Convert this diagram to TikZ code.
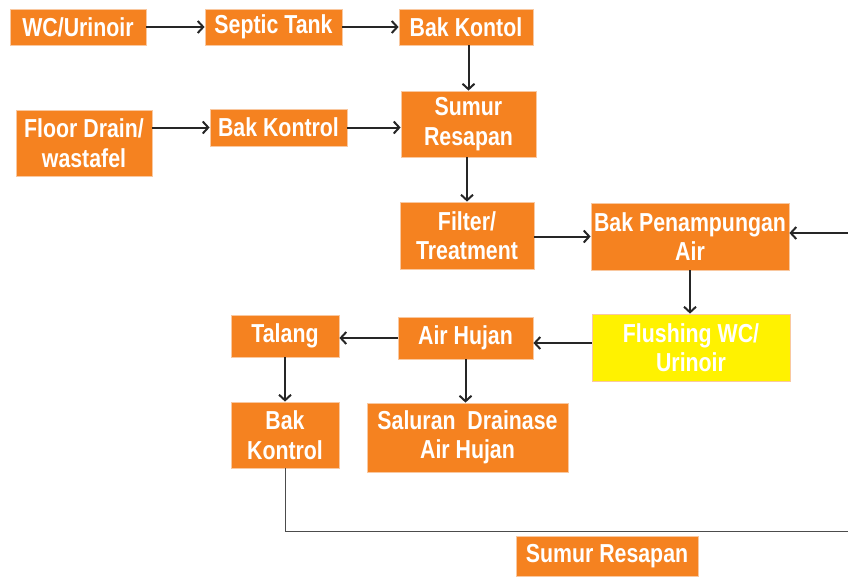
\documentclass[tikz,border=0pt]{standalone}
\usepackage{fontspec}
\setmainfont[FakeStretch=0.82]{Liberation Sans}
\usetikzlibrary{arrows.meta,calc}
\definecolor{boxor}{HTML}{F58220}
\definecolor{boxyel}{HTML}{FFF200}
\definecolor{boxedge}{HTML}{F9C8A0}
\definecolor{arr}{HTML}{262626}
\tikzset{
  box/.style={fill=boxor, draw=boxedge, line width=0.8pt, text=white, align=center,
    font=\fontsize{26}{29.5}\selectfont\bfseries, inner sep=0pt},
  yelbox/.style={box, fill=boxyel},
  flow/.style={draw=arr, line width=2pt, -{Straight Barb[length=5.5pt,width=12pt]}},
  thinline/.style={draw=black!70, line width=1pt}
}
\begin{document}
\begin{tikzpicture}[x=1pt,y=-1pt]
\useasboundingbox (0,0) rectangle (848,578);
\node[box, minimum width=136pt, minimum height=36pt] (wc) at (78,27) {WC/Urinoir};
\node[box, minimum width=137pt, minimum height=36pt] (septic) at (273.5,27) {Septic Tank};
\node[box, minimum width=134pt, minimum height=36pt] (bkt) at (466,27) {Bak Kontol};
\node[box, minimum width=136pt, minimum height=66pt] (floor) at (84,143) {Floor Drain/\\wastafel};
\node[box, minimum width=137pt, minimum height=37pt] (bk1) at (278.5,127.5) {Bak Kontrol};
\node[box, minimum width=135pt, minimum height=66pt] (sumur1) at (468.5,124) {Sumur\\Resapan};
\node[box, minimum width=134pt, minimum height=67pt] (filter) at (467,235.5) {Filter/\\Treatment};
\node[box, minimum width=198pt, minimum height=67pt] (pen) at (690,236.5) {Bak Penampungan\\Air};
\node[yelbox, minimum width=198pt, minimum height=67pt] (flush) at (691,347.5) {Flushing WC/\\Urinoir};
\node[box, minimum width=135pt, minimum height=42pt] (ah) at (465.5,338) {Air Hujan};
\node[box, minimum width=108pt, minimum height=42pt] (talang) at (285,336) {Talang};
\node[box, minimum width=108pt, minimum height=66pt] (bk2) at (285,435) {Bak\\Kontrol};
\node[box, minimum width=201pt, minimum height=69pt] (sal) at (467.5,437.5) {Saluran\ \ Drainase\\Air Hujan};
\node[box, minimum width=182pt, minimum height=40pt] (sumur2) at (607,556.5) {Sumur Resapan};
\coordinate (rin) at (848,233);
\coordinate (corner) at (285,531);
\coordinate (rout) at (848,531);
\draw[flow] (wc) -- (septic);
\draw[flow] (septic) -- (bkt);
\draw[flow] (bkt.south -| sumur1.north) -- (sumur1.north);
\draw[flow] (floor.east |- bk1.west) -- (bk1.west);
\draw[flow] (bk1.east) -- (bk1.east -| sumur1.west);
\draw[flow] (sumur1.south -| filter.north) -- (filter.north);
\draw[flow] (filter.east |- pen.west) -- (pen.west);
\draw[flow] (rin) -- (rin -| pen.east);
\draw[flow] (pen.south) -- (flush.north -| pen.south);
\draw[flow] ([yshift=4.5pt]flush.west) -- ([yshift=4.5pt]flush.west -| ah.east);
\draw[flow] (ah.west) -- (ah.west -| talang.east);
\draw[flow] (ah.south) -- (ah.south |- sal.north);
\draw[flow] (talang.south) -- (bk2.north);
\draw[thinline] (bk2.south) -- (corner) -- (rout);
\end{tikzpicture}
\end{document}
